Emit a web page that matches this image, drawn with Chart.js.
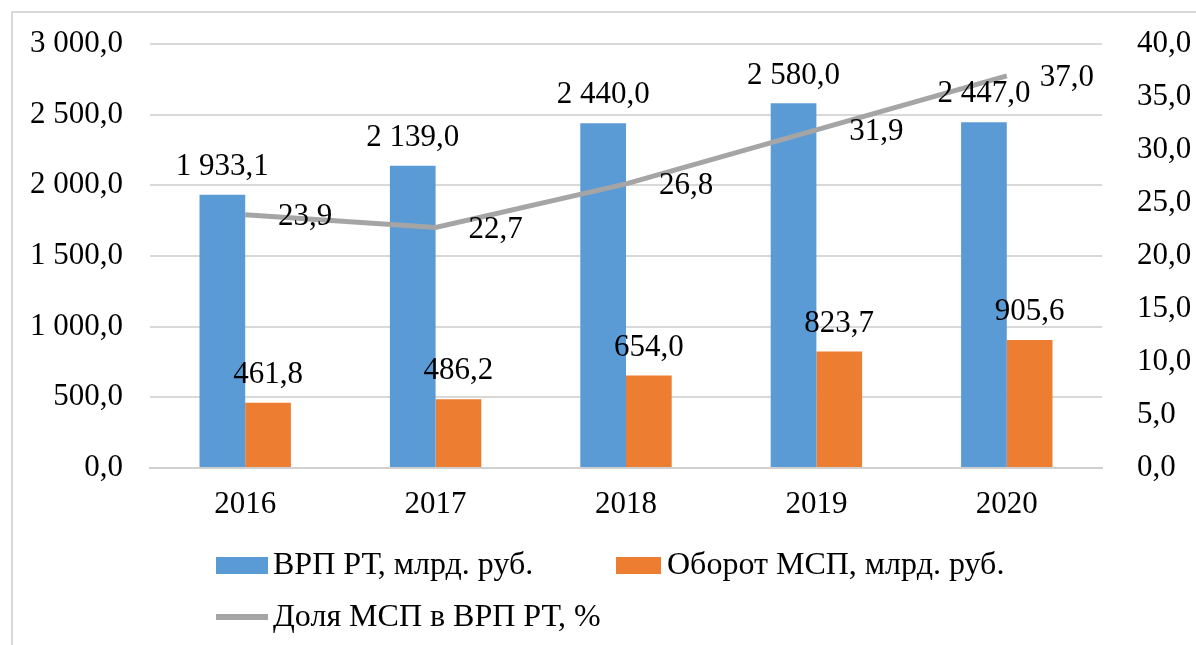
<!DOCTYPE html>
<html>
<head>
<meta charset="utf-8">
<script src="https://cdn.jsdelivr.net/npm/chart.js@4/dist/chart.umd.min.js"></script>
<style>
  html, body { margin: 0; padding: 0; background: #ffffff; }
  #wrap { width: 1196px; height: 645px; position: relative; }
</style>
</head>
<body>
<div id="wrap"><canvas id="c" width="1196" height="645"></canvas></div>
<script>
const categories = ['2016', '2017', '2018', '2019', '2020'];
const grpValues = [1933.1, 2139.0, 2440.0, 2580.0, 2447.0];
const turnoverValues = [461.8, 486.2, 654.0, 823.7, 905.6];
const shareValues = [23.9, 22.7, 26.8, 31.9, 37.0];
const seriesNames = ['ВРП РТ, млрд. руб.', 'Оборот МСП, млрд. руб.', 'Доля МСП в ВРП РТ, %'];

const FONT = '"Liberation Serif", "Times New Roman", serif';
const BLUE = '#5B9BD5', ORANGE = '#ED7D31', GRAY = '#A5A5A5';

function fmt(v) {
  const s = Math.abs(v).toFixed(1);
  let [ip, dp] = s.split('.');
  ip = ip.replace(/\B(?=(\d{3})+(?!\d))/g, ' ');
  return (v < 0 ? '-' : '') + ip + ',' + dp;
}

const framePlugin = {
  id: 'frame',
  beforeDraw(chart) {
    const ctx = chart.ctx;
    ctx.save();
    ctx.strokeStyle = '#d9d9d9';
    ctx.lineWidth = 2;
    ctx.beginPath();
    ctx.moveTo(12, 645);
    ctx.lineTo(12, 12);
    ctx.lineTo(1196, 12);
    ctx.stroke();
    ctx.restore();
  }
};

const labelsPlugin = {
  id: 'valueLabels',
  afterDatasetsDraw(chart) {
    const ctx = chart.ctx;
    ctx.save();
    ctx.font = '31px ' + FONT;
    ctx.fillStyle = '#000000';
    ctx.textBaseline = 'middle';
    ctx.textAlign = 'center';
    chart.data.datasets.forEach((ds, i) => {
      const meta = chart.getDatasetMeta(i);
      meta.data.forEach((el, j) => {
        const txt = fmt(ds.data[j]);
        if (ds.type === 'line') {
          ctx.fillText(txt, el.x + 60, el.y + 2);
        } else {
          ctx.fillText(txt, el.x, el.y - 28);
        }
      });
    });
    ctx.restore();
  }
};

const legendPlugin = {
  id: 'customLegend',
  afterDraw(chart) {
    const ctx = chart.ctx;
    const ds = chart.data.datasets;
    ctx.save();
    ctx.font = '32px ' + FONT;
    ctx.fillStyle = '#000000';
    ctx.textBaseline = 'middle';
    ctx.textAlign = 'left';
    // row 1
    ctx.fillStyle = ds[0].backgroundColor;
    ctx.fillRect(216, 557, 52, 17);
    ctx.fillStyle = '#000';
    ctx.fillText(ds[0].label, 273, 566);
    ctx.fillStyle = ds[1].backgroundColor;
    ctx.fillRect(616, 557, 45, 17);
    ctx.fillStyle = '#000';
    ctx.fillText(ds[1].label, 667, 566);
    // row 2
    ctx.strokeStyle = ds[2].borderColor;
    ctx.lineWidth = 6;
    ctx.beginPath();
    ctx.moveTo(216, 617);
    ctx.lineTo(268, 617);
    ctx.stroke();
    ctx.fillText(ds[2].label, 273, 618);
    ctx.restore();
  }
};

new Chart(document.getElementById('c'), {
  data: {
    labels: categories,
    datasets: [
      { type: 'bar', label: seriesNames[0], data: grpValues, backgroundColor: BLUE, yAxisID: 'y', order: 1,
        categoryPercentage: 0.48, barPercentage: 1.0 },
      { type: 'bar', label: seriesNames[1], data: turnoverValues, backgroundColor: ORANGE, yAxisID: 'y', order: 1,
        categoryPercentage: 0.48, barPercentage: 1.0 },
      { type: 'line', label: seriesNames[2], data: shareValues, borderColor: GRAY, backgroundColor: GRAY,
        borderWidth: 5, pointRadius: 0, tension: 0, yAxisID: 'y1', order: 0, borderCapStyle: 'butt' }
    ]
  },
  options: {
    responsive: false,
    animation: false,
    devicePixelRatio: 1,
    layout: { padding: { left: 0, right: 0, top: 44, bottom: 117 } },
    plugins: { legend: { display: false }, tooltip: { enabled: false } },
    scales: {
      x: {
        offset: true,
        grid: { display: false, drawTicks: false },
        border: { display: true, color: '#d0d0d0', width: 2 },
        ticks: { font: { family: FONT, size: 31 }, color: '#000', padding: 18 },
        afterFit(scale) { scale.height = 60; }
      },
      y: {
        position: 'left',
        min: 0, max: 3000,
        ticks: { stepSize: 500, font: { family: FONT, size: 31 }, color: '#000', padding: 27,
                 callback: v => fmt(v) },
        grid: { color: '#d9d9d9', lineWidth: 2, drawTicks: false },
        border: { display: false },
        afterFit(scale) { scale.width = 150; scale.paddingTop = 0; scale.paddingBottom = 0; }
      },
      y1: {
        position: 'right',
        min: 0, max: 40,
        ticks: { stepSize: 5, font: { family: FONT, size: 31 }, color: '#000', padding: 35,
                 callback: v => fmt(v) },
        grid: { display: false, drawTicks: false },
        border: { display: false },
        afterFit(scale) { scale.width = 94; scale.paddingTop = 0; scale.paddingBottom = 0; }
      }
    }
  },
  plugins: [framePlugin, labelsPlugin, legendPlugin]
});
</script>
</body>
</html>
